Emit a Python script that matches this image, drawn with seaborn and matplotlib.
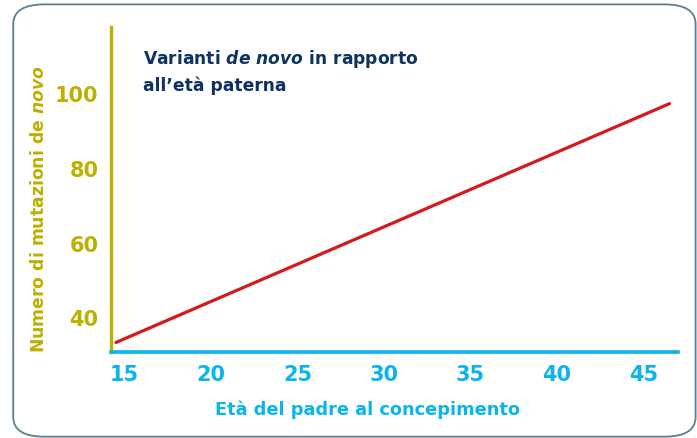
#!/usr/bin/env python3
# Paternal age vs de novo mutations

import pandas as pd
import seaborn as sns
import matplotlib.pyplot as plt
from matplotlib.patches import FancyBboxPatch

age = [14.5, 46.5]
mutations = [33.5, 97.5]
x_ticks = [15, 20, 25, 30, 35, 40, 45]
y_ticks = [40, 60, 80, 100]

OLIVE = "#bdb000"
CYAN = "#0bb4ea"
NAVY = "#0d3263"
RED = "#d3191c"

sns.set_style("white")
plt.rcParams['font.family'] = ['DejaVu Sans']
plt.rcParams['mathtext.fontset'] = 'custom'
plt.rcParams['mathtext.it'] = 'DejaVu Sans:italic:bold'
plt.rcParams['mathtext.rm'] = 'DejaVu Sans:bold'

data = pd.DataFrame({"age": age, "mutations": mutations})

fig = plt.figure(figsize=(6.97, 4.38), dpi=100)
fig.patches.append(FancyBboxPatch((0.019, 0.003), 0.979, 0.987,
                                  boxstyle="round,pad=0,rounding_size=0.045",
                                  transform=fig.transFigure, facecolor="white",
                                  edgecolor="#5b7e93", linewidth=1.3, zorder=-1))
ax = fig.add_axes([0.159, 0.196, 0.814, 0.742])
ax.patch.set_alpha(0)

sns.lineplot(x="age", y="mutations", data=data, color=RED, linewidth=2.3, ax=ax)

ax.set_xlim(14.2, 47)
ax.set_ylim(30.9, 118)
ax.set_xticks(x_ticks)
ax.set_yticks(y_ticks)
ax.tick_params(axis="x", colors=CYAN, length=0, pad=9, labelsize=15)
ax.tick_params(axis="y", colors=OLIVE, length=0, pad=9, labelsize=15)
for lab in ax.get_xticklabels() + ax.get_yticklabels():
    lab.set_fontweight("bold")

for s in ["top", "right"]:
    ax.spines[s].set_visible(False)
ax.spines["left"].set_color(OLIVE)
ax.spines["left"].set_linewidth(2.4)
ax.spines["bottom"].set_color(CYAN)
ax.spines["bottom"].set_linewidth(2.6)

ax.set_xlabel("Età del padre al concepimento", color=CYAN, fontsize=12.8,
              fontweight="bold")
ax.xaxis.set_label_coords(0.453, -0.15)
ax.set_ylabel(r"Numero di mutazioni de $\it{novo}$", color=OLIVE, fontsize=12.4,
              fontweight="bold")
ax.yaxis.set_label_coords(-0.11, 0.44)

ax.text(0.056, 0.935, "Varianti $\\it{de\\ novo}$ in rapporto\nall’età paterna",
        transform=ax.transAxes, color=NAVY, fontsize=12.3, fontweight="bold",
        va="top", ha="left", linespacing=1.45)

plt.savefig("out.png", dpi=100)
